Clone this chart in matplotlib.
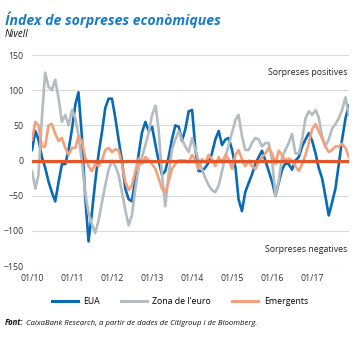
import matplotlib
matplotlib.use("Agg")
import matplotlib.pyplot as plt
import matplotlib.dates as mdates
import pandas as pd

# Índex de sorpreses econòmiques (Citigroup), valors mensuals gen-2010 a des-2017
dates = pd.date_range("2010-01-01", periods=96, freq="MS")

eua = [15, 42, 30, 5, -10, -30, -45, -58, -30, -5, -5, 15,
       45, 80, 97, 35, -50, -115, -75, -30, 10, 40, 75, 88,
       88, 60, 30, 0, -40, -55, -58, -25, 10, 40, 55, 42,
       48, 22, 0, -20, -15, 5, 30, 50, 48, 28, 45, 70,
       72, 15, -15, -15, -10, -3, 10, 30, 42, 22, 30, 32,
       15, -10, -55, -72, -45, -32, -20, -5, 5, 14, 0, -15,
       -30, -50, -32, -13, -4, -5, -13, 0, 5, 20, 30, 39,
       28, 10, -10, -25, -50, -78, -60, -40, -5, 30, 60, 78]

zona_euro = [-15, -40, -20, 60, 125, 105, 100, 115, 88, 55, 65, 50,
             72, 60, 35, 0, -45, -75, -90, -103, -85, -60, -35, -13,
             0, -8, -20, -45, -70, -92, -78, -40, -10, 5, 22, 40,
             65, 78, 45, -20, -65, -20, 15, 30, 42, 30, 20, 12,
             32, 15, 0, -12, -25, -35, -42, -45, -35, -15, 5, 22,
             40, 58, 65, 35, 15, 15, 25, 32, 30, 20, 25, 25,
             0, -50, -30, 5, 15, 25, 38, 10, 10, 30, 60, 70,
             65, 72, 62, 35, 20, 30, 45, 52, 60, 72, 90, 65]

emergents = [30, 55, 50, 20, 20, 50, 52, 38, 28, 32, 18, 8,
             18, 18, 35, 28, 5, -8, -15, -5, -8, 0, 15, 18,
             12, 16, 15, -5, -30, -42, -35, -15, 3, -5, 5, 0,
             -5, -12, -25, -40, -45, -30, -12, -5, 0, 0, 0, -3,
             8, 0, -12, 2, -3, 8, 2, -8, 5, -3, 8, 2,
             -12, 8, 15, 2, -8, 0, -8, -12, -2, 5, 10, 18,
             10, -5, 14, 8, 0, 3, 0, -8, -15, -5, 8, 25,
             45, 52, 42, 32, 20, 12, 15, 20, 20, 24, 18, 5]

yticks = [-150, -100, -50, 0, 50, 100, 150]

plt.rcParams["font.family"] = ["Open Sans", "DejaVu Sans"]

fig = plt.figure(figsize=(3.62, 3.38), dpi=100)
ax = fig.add_axes([0.0884, 0.213, 0.876, 0.624])

ax.plot(dates, eua, color="#0a6bb5", lw=1.9, label="EUA", zorder=2)
ax.plot(dates, zona_euro, color="#b4bcc1", lw=1.9, label="Zona de l'euro", zorder=3)
ax.plot(dates, emergents, color="#f4a07a", lw=1.9, label="Emergents", zorder=4)
ax.axhline(0, color="#e2562a", lw=2.3, zorder=5)

ax.set_ylim(-150, 150)
ax.set_yticks(yticks)
ax.set_xlim(dates[0], dates[-1] + pd.Timedelta(days=3))
ax.xaxis.set_major_locator(mdates.YearLocator())
ax.xaxis.set_major_formatter(mdates.DateFormatter("%m/%y"))
ax.grid(axis="y", color="#d9d9d9", lw=0.8, zorder=0)
ax.tick_params(length=0, labelsize=6.3, colors="#333333")
ax.tick_params(axis="y", pad=6)
ax.tick_params(axis="x", pad=6)
for s in ax.spines.values():
    s.set_visible(False)

ax.text(0.995, 125, "Sorpreses positives", transform=ax.get_yaxis_transform(),
        ha="right", va="center", fontsize=6.3, color="#222222")
ax.text(0.995, -127, "Sorpreses negatives", transform=ax.get_yaxis_transform(),
        ha="right", va="center", fontsize=6.3, color="#222222")

fig.text(0.014, 0.926, "Índex de sorpreses econòmiques", fontsize=10.2,
         fontweight="bold", fontstyle="italic", color="#1a7cc4", va="baseline")
fig.text(0.014, 0.891, "Nivell", fontsize=7, fontstyle="italic", color="#111111",
         va="baseline")

fig.legend(loc="center", bbox_to_anchor=(0.497, 0.109), ncol=3, frameon=False,
           fontsize=6.3, handlelength=3.0, handletextpad=0.6, columnspacing=2.4)
leg = fig.legends[0]
for ln in leg.get_lines():
    ln.set_linewidth(2.2)

# peu: "Font:" en negreta i la resta en cursiva
renderer = fig.canvas.get_renderer()
t1 = fig.text(0.014, 0.038, "Font:", fontsize=5.55, fontweight="bold",
              fontstyle="italic", color="#111111", va="baseline")
bb = t1.get_window_extent(renderer)
x2 = (bb.x1 + 2) / fig.bbox.width
fig.text(x2, 0.038, "CaixaBank Research, a partir de dades de Citigroup i de Bloomberg.",
         fontsize=5.55, fontstyle="italic", color="#111111", va="baseline")

fig.savefig("out.png", dpi=100)
